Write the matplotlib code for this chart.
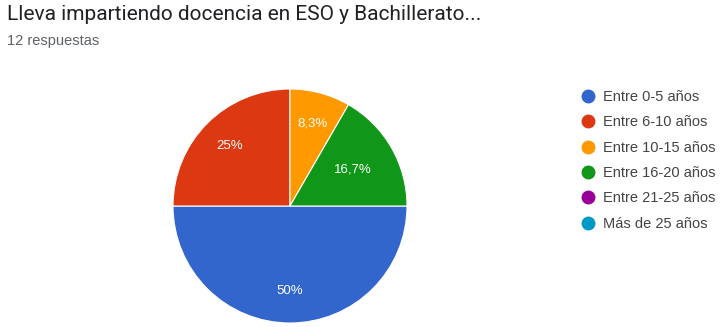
import matplotlib.pyplot as plt
from matplotlib.lines import Line2D

categories = ["Entre 0-5 años", "Entre 6-10 años", "Entre 10-15 años",
              "Entre 16-20 años", "Entre 21-25 años", "Más de 25 años"]
counts = [6, 3, 1, 2, 0, 0]
colors = ["#3366cc", "#dc3912", "#ff9900", "#109618", "#990099", "#0099c6"]

plt.rcParams["font.family"] = ["Liberation Sans", "DejaVu Sans"]

fig = plt.figure(figsize=(7.25, 3.27), dpi=100)
fig.text(7 / 725, 1 - 15 / 327, "Lleva impartiendo docencia en ESO y Bachillerato...",
         fontsize=15, color="#202124", va="center", ha="left", family=["Roboto", "DejaVu Sans"])
fig.text(7 / 725, 1 - 41 / 327, "12 respuestas", fontsize=10.5, color="#5f6368",
         va="center", ha="left")

# pie axes: centre (290, 206), radius ~117 px
r = 117
ax = fig.add_axes([(290 - r) / 725, 1 - (206 + r) / 327, 2 * r / 725, 2 * r / 327])

vals = [c for c in counts if c > 0]
cols = [col for c, col in zip(counts, colors) if c > 0]


def fmt(p):
    s = f"{p:.1f}".rstrip("0").rstrip(".")
    return s.replace(".", ",") + "%"


wedges, texts, autotexts = ax.pie(vals, colors=cols, startangle=0, counterclock=False,
                                  autopct=fmt, pctdistance=0.73,
                                  wedgeprops=dict(edgecolor="white", linewidth=0.8))
for t in autotexts:
    t.set_color("white")
    t.set_fontsize(9.5)
# the small green slice has its label pulled a bit towards the centre
x, y = autotexts[3].get_position()
autotexts[3].set_position((x * 0.62 / 0.73, y * 0.62 / 0.73))

ax.set_xlim(-1, 1)
ax.set_ylim(-1, 1)
ax.set_aspect("equal")

handles = [Line2D([], [], marker="o", linestyle="", markersize=9,
                  markerfacecolor=c, markeredgecolor=c) for c in colors]
fig.legend(handles, categories, loc="upper left", bbox_to_anchor=(581 / 725, 1 - 90 / 327),
           frameon=False, fontsize=10.5, labelcolor="#444444", handletextpad=0.53,
           labelspacing=0.78, handlelength=1.0, borderpad=0, borderaxespad=0)

plt.savefig("out.png", dpi=100)
